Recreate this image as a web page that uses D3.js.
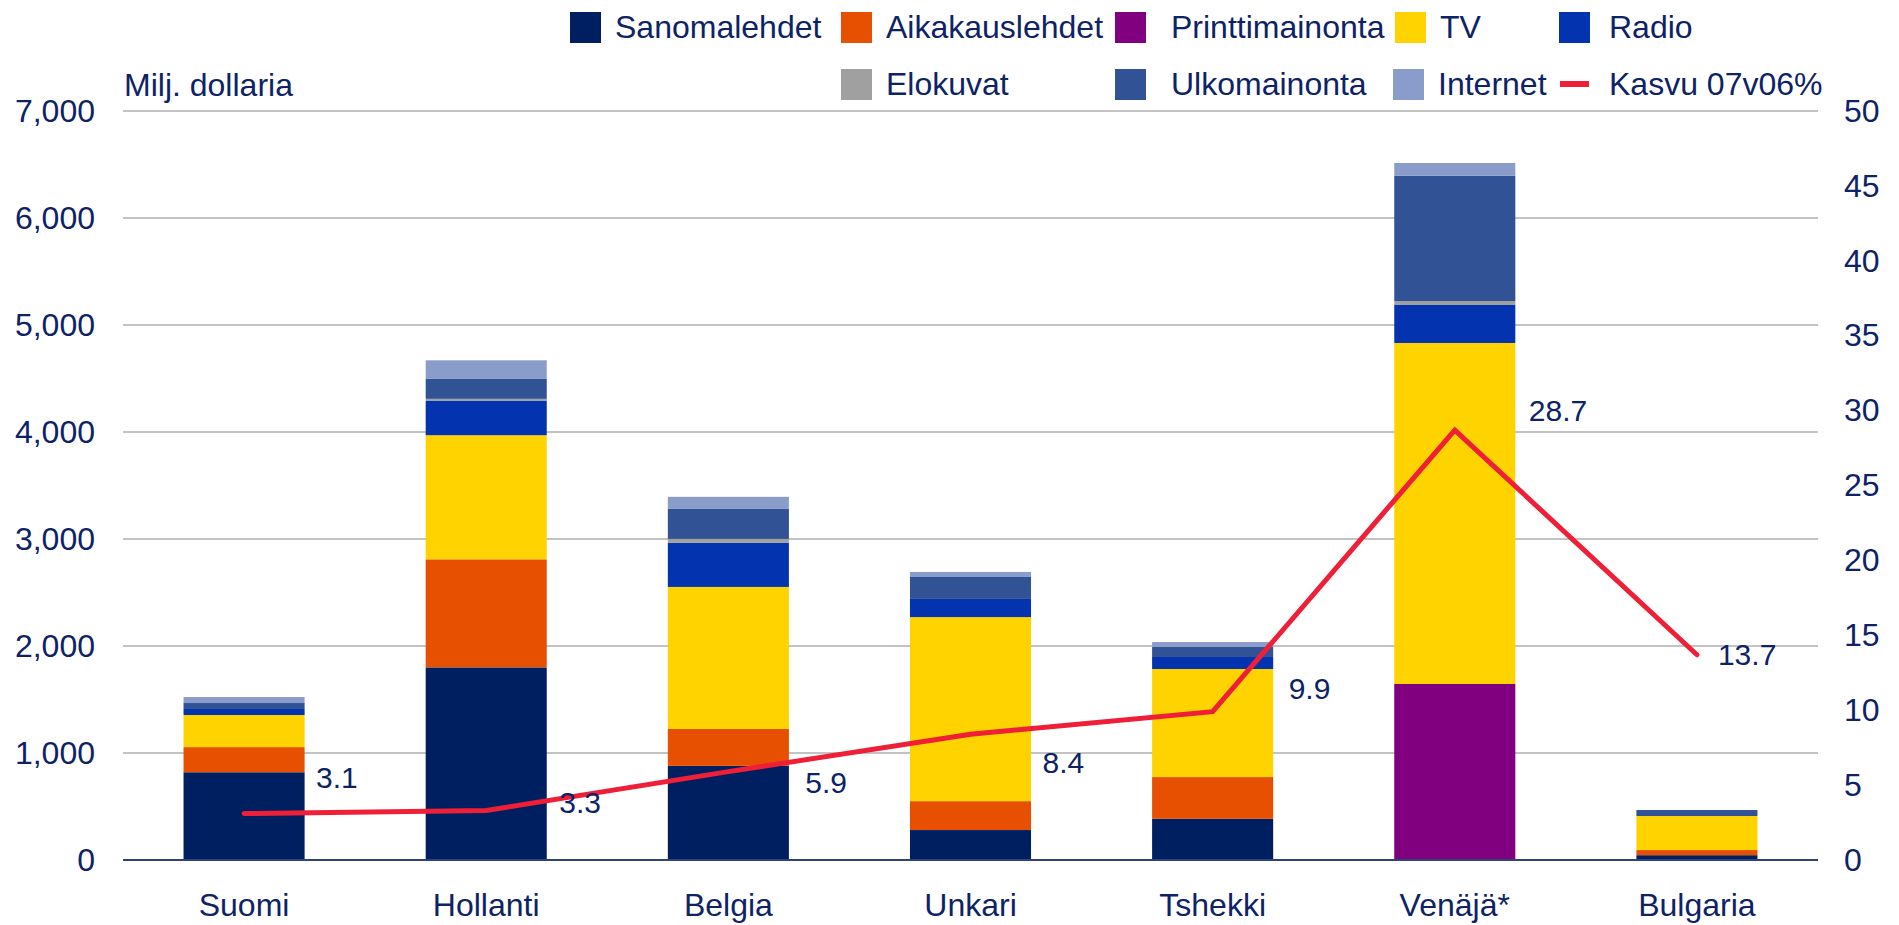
<!DOCTYPE html>
<html>
<head>
<meta charset="utf-8">
<style>
    body { margin: 0; background: #fff; }
    svg { display: block; font-family: "Liberation Sans", Arial, sans-serif; }
    .tick text { font-size: 32px; fill: #0d2366; }
    .domain { display: none; }
    .legend text, .unit { font-size: 32px; fill: #0d2366; }
    .val { font-size: 30px; fill: #0d2366; }
    .cat text { font-size: 32px; }
</style>
<title>Mainonta maittain</title>
</head>
<body>
<svg width="1899" height="925"></svg>
<script src="https://d3js.org/d3.v7.min.js"></script>
<script>
    // data (milj. dollaria)
    let categories = ["Suomi", "Hollanti", "Belgia", "Unkari", "Tshekki", "Venäjä*", "Bulgaria"]
    let sanomalehdet = [820, 1800, 880, 280, 385, 0, 45]
    let aikakauslehdet = [235, 1010, 345, 270, 390, 0, 48]
    let printtimainonta = [0, 0, 0, 0, 0, 1645, 0]
    let tv = [300, 1160, 1327, 1720, 1010, 3187, 318]
    let radio = [56, 320, 412, 170, 112, 355, 0]
    let elokuvat = [0, 20, 37, 0, 0, 37, 0]
    let ulkomainonta = [56, 190, 280, 205, 94, 1170, 56]
    let internet = [56, 170, 113, 47, 46, 120, 0]
    // Kasvu 07v06 %
    let kasvu = [3.1, 3.3, 5.9, 8.4, 9.9, 28.7, 13.7]

    let leftTicks = [0, 1000, 2000, 3000, 4000, 5000, 6000, 7000]
    let rightTicks = [0, 5, 10, 15, 20, 25, 30, 35, 40, 45, 50]

    let keys = ["Sanomalehdet", "Aikakauslehdet", "Printtimainonta", "TV", "Radio", "Elokuvat", "Ulkomainonta", "Internet"]
    let seriesVals = [sanomalehdet, aikakauslehdet, printtimainonta, tv, radio, elokuvat, ulkomainonta, internet]
    let colors = ["#001f60", "#e65000", "#800080", "#ffd300", "#0433b0", "#a0a0a0", "#325296", "#8a9dca"]
    let lineColor = "#ef1f38"
    let textColor = "#0d2366"

    let rows = categories.map((c, i) => {
        let r = { cat: c }
        keys.forEach((k, j) => r[k] = seriesVals[j][i])
        return r
    })

    let svg = d3.select("svg")
    let margin = { top: 111, right: 81, bottom: 65, left: 123 }
    let W = 1899, H = 925

    let x = d3.scaleBand()
        .domain(categories)
        .range([margin.left, W - margin.right])
        .paddingInner(0.5)
        .paddingOuter(0.25)

    let y = d3.scaleLinear().domain([0, 7000]).range([H - margin.bottom, margin.top])
    let y2 = d3.scaleLinear().domain([0, 50]).range([H - margin.bottom, margin.top])

    let color = d3.scaleOrdinal().domain(keys).range(colors)

    // gridlines
    svg.append("g")
        .selectAll("line")
        .data(leftTicks.filter(d => d > 0))
        .join("line")
        .attr("x1", margin.left)
        .attr("x2", W - margin.right)
        .attr("y1", d => y(d))
        .attr("y2", d => y(d))
        .attr("stroke", "#c3c3c3")
        .attr("stroke-width", 2)

    // left axis
    svg.append("g")
        .attr("transform", `translate(${margin.left},0)`)
        .call(d3.axisLeft(y).tickValues(leftTicks).tickSize(0).tickPadding(28).tickFormat(d3.format(",")))

    // right axis
    svg.append("g")
        .attr("transform", `translate(${W - margin.right},0)`)
        .call(d3.axisRight(y2).tickValues(rightTicks).tickSize(0).tickPadding(26))

    // stacked bars
    let series = d3.stack().keys(keys)(rows)
    svg.append("g")
        .selectAll("g")
        .data(series)
        .join("g")
        .attr("fill", d => color(d.key))
        .selectAll("rect")
        .data(d => d)
        .join("rect")
        .attr("x", d => x(d.data.cat))
        .attr("width", x.bandwidth())
        .attr("y", d => y(d[1]))
        .attr("height", d => y(d[0]) - y(d[1]))

    // baseline
    svg.append("line")
        .attr("x1", margin.left)
        .attr("x2", W - margin.right)
        .attr("y1", y(0))
        .attr("y2", y(0))
        .attr("stroke", "#2f4476")
        .attr("stroke-width", 2)

    // category labels
    svg.append("g")
        .attr("class", "cat")
        .selectAll("text")
        .data(categories)
        .join("text")
        .attr("x", d => x(d) + x.bandwidth() / 2)
        .attr("y", 916)
        .attr("text-anchor", "middle")
        .attr("fill", textColor)
        .text(d => d)

    // growth line
    let line = d3.line()
        .x((d, i) => x(categories[i]) + x.bandwidth() / 2)
        .y(d => y2(d))

    svg.append("path")
        .datum(kasvu)
        .attr("fill", "none")
        .attr("stroke", lineColor)
        .attr("stroke-width", 5)
        .attr("stroke-linejoin", "miter")
        .attr("stroke-linecap", "round")
        .attr("d", line)

    // value labels, nudged like in the original
    let nudge = [[72, -36], [73, -8], [77, 11], [72, 28], [76, -23], [74, -20], [21, 0]]
    svg.append("g")
        .selectAll("text")
        .data(kasvu)
        .join("text")
        .attr("class", "val")
        .attr("x", (d, i) => x(categories[i]) + x.bandwidth() / 2 + nudge[i][0])
        .attr("y", (d, i) => y2(d) + nudge[i][1])
        .attr("dy", "0.35em")
        .text(d => d.toFixed(1))

    // unit label
    svg.append("text")
        .attr("class", "unit")
        .attr("x", 124)
        .attr("y", 85)
        .attr("dy", "0.35em")
        .text("Milj. dollaria")

    // legend
    let legendItems = [
        { name: "Sanomalehdet", x: 570, y: 27 },
        { name: "Aikakauslehdet", x: 841, y: 27 },
        { name: "Printtimainonta", x: 1115, y: 27, gap: 25 },
        { name: "TV", x: 1395, y: 27 },
        { name: "Radio", x: 1559, y: 27, gap: 19 },
        { name: "Elokuvat", x: 841, y: 84 },
        { name: "Ulkomainonta", x: 1115, y: 84, gap: 25 },
        { name: "Internet", x: 1393, y: 84 },
    ]
    let legend = svg.append("g").attr("class", "legend")
    legendItems.forEach(it => {
        legend.append("rect")
            .attr("x", it.x)
            .attr("y", it.y - 15)
            .attr("width", 31)
            .attr("height", 31)
            .attr("fill", color(it.name))
        legend.append("text")
            .attr("x", it.x + 31 + (it.gap || 14))
            .attr("y", it.y)
            .attr("dy", "0.35em")
            .text(it.name)
    })
    legend.append("line")
        .attr("x1", 1560).attr("x2", 1589)
        .attr("y1", 84).attr("y2", 84)
        .attr("stroke", lineColor)
        .attr("stroke-width", 6)
    legend.append("text")
        .attr("x", 1609)
        .attr("y", 84)
        .attr("dy", "0.35em")
        .text("Kasvu 07v06%")
</script>
</body>
</html>
